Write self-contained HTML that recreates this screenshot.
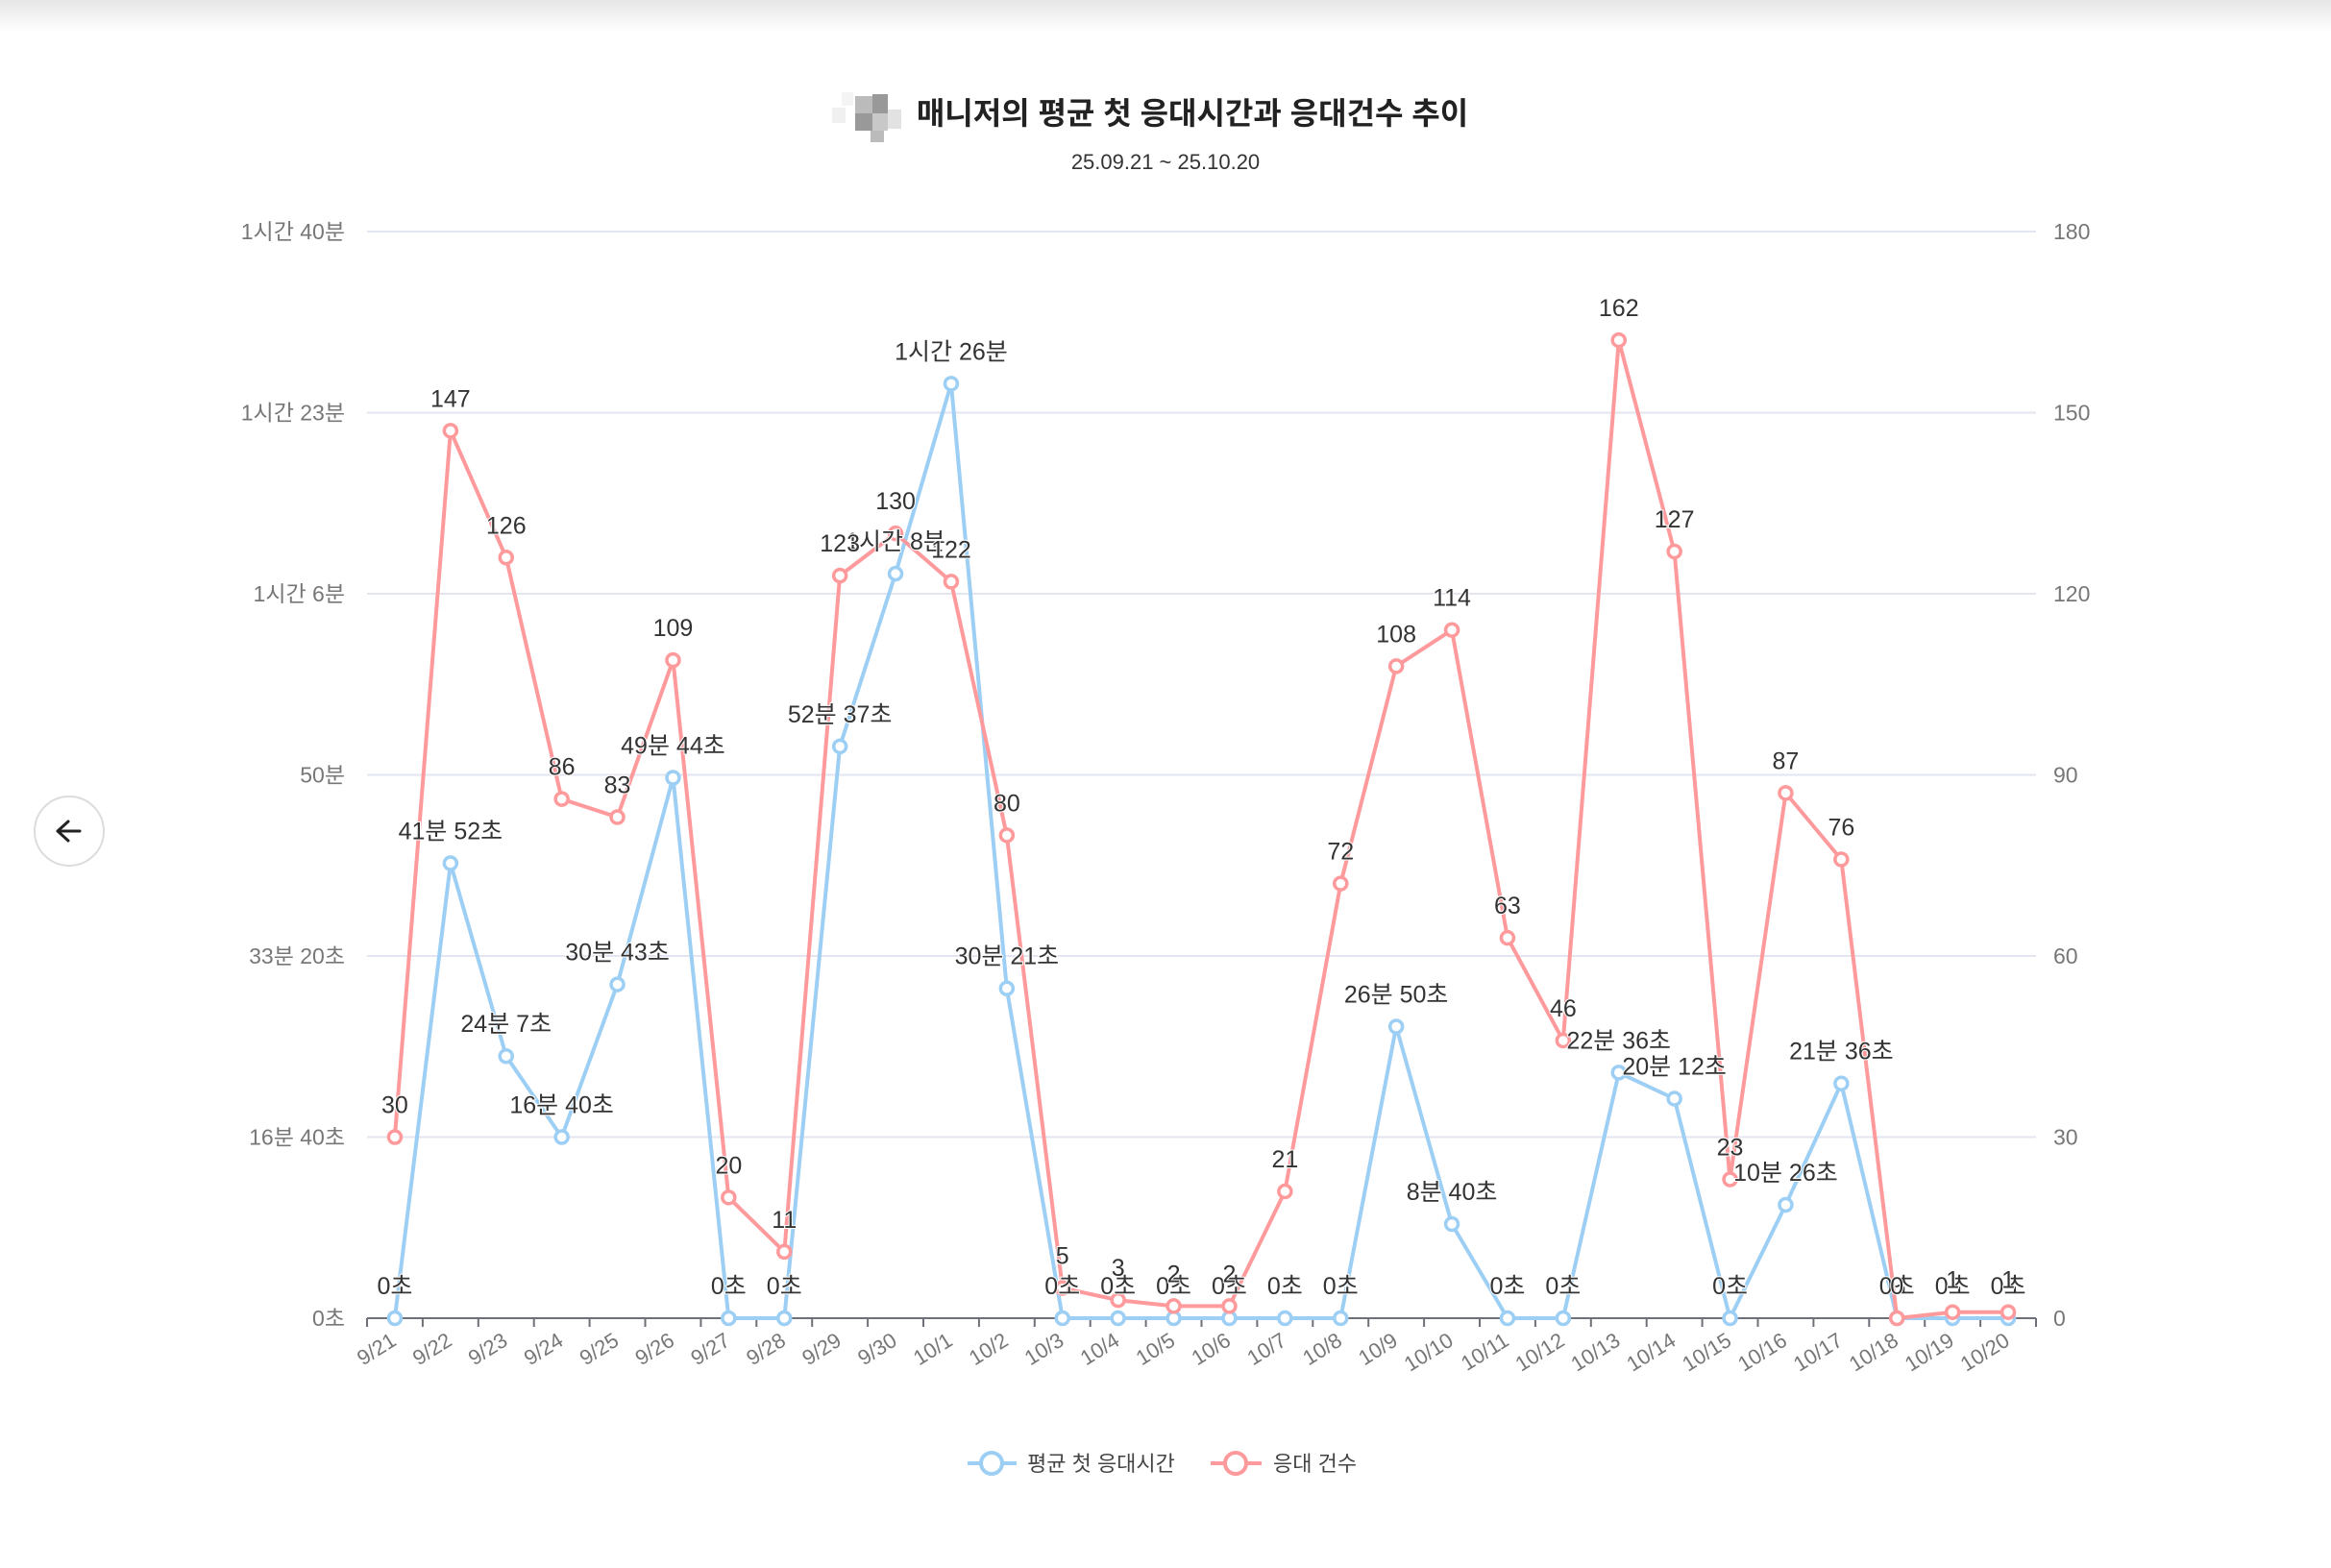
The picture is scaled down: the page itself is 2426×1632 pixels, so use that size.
<!DOCTYPE html>
<html><head><meta charset="utf-8">
<style>
html,body{margin:0;padding:0;background:#fff;}
body{width:2426px;height:1632px;overflow:hidden;position:relative;font-family:"Liberation Sans","Noto Sans CJK KR",sans-serif;}
#topbar{position:absolute;left:0;top:0;width:2426px;height:34px;background:linear-gradient(#e6e6e6,#ffffff);}
</style></head>
<body>
<div id="topbar"></div>
<svg id="c" width="2426" height="1632" style="position:absolute;left:0;top:0" font-family="Liberation Sans, Noto Sans CJK KR, sans-serif"></svg>
<script>
var svg=document.getElementById('c');var NS='http://www.w3.org/2000/svg';
function el(t,a,txt){var e=document.createElementNS(NS,t);for(var k in a)e.setAttribute(k,a[k]);if(txt!==undefined)e.textContent=txt;svg.appendChild(e);return e;}
var L=382,R=2119,T=241,B=1372,N=30,W=(R-L)/N;
function X(i){return L+W*(i+0.5);}
var blocks=[[866,112,14,16,'#f0f0f0'],[890,100,18,18,'#bbb'],[908,98,16,20,'#999'],[890,118,18,18,'#999'],[908,118,16,18,'#c8c8c8'],[924,114,14,20,'#e2e2e2'],[906,136,14,12,'#bbb'],[876,96,12,14,'#f4f4f4']];
blocks.forEach(function(b){el('rect',{x:b[0],y:b[1],width:b[2],height:b[3],fill:b[4]});});
el('text',{x:1241,y:129,'text-anchor':'middle','font-size':32,'font-weight':'bold',fill:'#222'},'매니저의 평균 첫 응대시간과 응대건수 추이');
el('text',{x:1213,y:176,'text-anchor':'middle','font-size':22,fill:'#333'},'25.09.21 ~ 25.10.20');
var ll=['0초','16분 40초','33분 20초','50분','1시간 6분','1시간 23분','1시간 40분'];
for(var g=0;g<=6;g++){var y=B-(B-T)*g/6;
 if(g>0)el('line',{x1:L,x2:R,y1:y,y2:y,stroke:'#e3e6f0','stroke-width':2});
 el('text',{x:359,y:y+8,'text-anchor':'end','font-size':23,fill:'#777'},ll[g]);
 el('text',{x:2137,y:y+8,'font-size':23,fill:'#777'},String(g*30));}
el('line',{x1:L,x2:R,y1:B,y2:B,stroke:'#6e7079','stroke-width':2});
var dates=['9/21','9/22','9/23','9/24','9/25','9/26','9/27','9/28','9/29','9/30','10/1','10/2','10/3','10/4','10/5','10/6','10/7','10/8','10/9','10/10','10/11','10/12','10/13','10/14','10/15','10/16','10/17','10/18','10/19','10/20'];
for(var i=0;i<=N;i++){var x=L+W*i;el('line',{x1:x,x2:x,y1:B,y2:B+9,stroke:'#6e7079','stroke-width':2});}
for(var i=0;i<N;i++){var x=X(i)+3,y=B+27;el('text',{x:x,y:y,'text-anchor':'end','font-size':22,fill:'#777',transform:'rotate(-32 '+x+' '+y+')'},dates[i]);}
var blue=[0,2512,1447,1000,1843,2984,0,0,3157,4111,5160,1821,0,0,0,0,0,0,1610,520,0,0,1356,1212,0,626,1296,0,0,0];
var bl=['0초','41분 52초','24분 7초','16분 40초','30분 43초','49분 44초','0초','0초','52분 37초','1시간 8분','1시간 26분','30분 21초','0초','0초','0초','0초','0초','0초','26분 50초','8분 40초','0초','0초','22분 36초','20분 12초','0초','10분 26초','21분 36초','0초','0초','0초'];
var red=[30,147,126,86,83,109,20,11,123,130,122,80,5,3,2,2,21,72,108,114,63,46,162,127,23,87,76,0,1,1];
function by(v){return B-(B-T)*v/6000;}function ry(v){return B-(B-T)*v/180;}
function series(vals,f,col){var p=vals.map(function(v,i){return X(i).toFixed(1)+','+f(v).toFixed(1);}).join(' ');
 el('polyline',{points:p,fill:'none',stroke:col,'stroke-width':4,'stroke-linejoin':'round'});
 vals.forEach(function(v,i){el('circle',{cx:X(i),cy:f(v),r:6.5,fill:'#fff',stroke:col,'stroke-width':3.5});});}
series(blue,by,'#9dcff5');
series(red,ry,'#ff9a9c');
function labels(vals,f,txt){vals.forEach(function(v,i){el('text',{x:X(i),y:f(v)-25,'text-anchor':'middle','font-size':25,fill:'#333',stroke:'#fff','stroke-width':2,'paint-order':'stroke'},txt[i]);});}
labels(blue,by,bl);
labels(red,ry,red.map(String));
el('line',{x1:1007,x2:1058,y1:1523,y2:1523,stroke:'#9dcff5','stroke-width':4});
el('circle',{cx:1032,cy:1523,r:11,fill:'#fff',stroke:'#9dcff5','stroke-width':4});
el('text',{x:1069,y:1531,'font-size':22,fill:'#444'},'평균 첫 응대시간');
el('line',{x1:1260,x2:1313,y1:1523,y2:1523,stroke:'#ff9a9c','stroke-width':4});
el('circle',{cx:1286,cy:1523,r:11,fill:'#fff',stroke:'#ff9a9c','stroke-width':4});
el('text',{x:1325,y:1531,'font-size':22,fill:'#444'},'응대 건수');
el('circle',{cx:72,cy:865,r:36,fill:'#fff',stroke:'#dcdcdc','stroke-width':2});
el('path',{d:'M83 865 H61 M71 855 L60 865 L71 875',fill:'none',stroke:'#222','stroke-width':3,'stroke-linecap':'round','stroke-linejoin':'round'});
</script>
</body></html>
